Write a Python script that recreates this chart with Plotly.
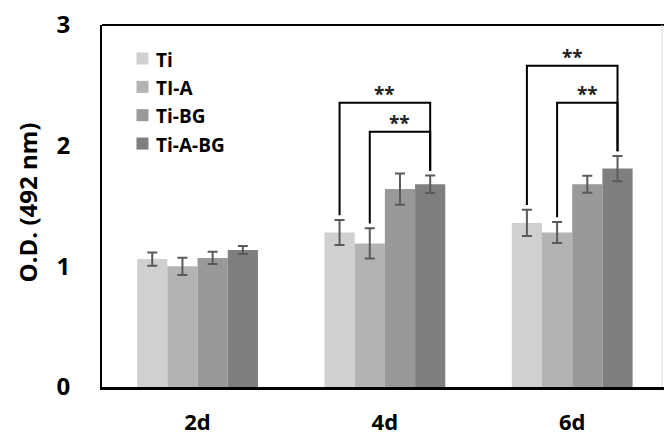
import plotly.graph_objects as go

categories = ["2d", "4d", "6d"]
series_names = ["Ti", "TI-A", "Ti-BG", "Ti-A-BG"]
series_colors = ["#d0d0d0", "#b3b3b3", "#999999", "#7f7f7f"]
values_ti = [1.06, 1.28, 1.36]
values_tia = [1.00, 1.19, 1.28]
values_tibg = [1.07, 1.64, 1.68]
values_tiabg = [1.135, 1.68, 1.81]
err_ti = [0.055, 0.104, 0.108]
err_tia = [0.072, 0.126, 0.087]
err_tibg = [0.05, 0.13, 0.07]
err_tiabg = [0.033, 0.072, 0.104]
y_ticks = [0, 1, 2, 3]

# significance brackets: (category index, series a, series b, bracket height, label)
sig_category = [1, 1, 2, 2]
sig_from = [0, 1, 0, 1]
sig_to = [3, 3, 3, 3]
sig_height = [2.356, 2.116, 2.663, 2.356]
sig_label = ["**", "**", "**", "**"]

all_values = [values_ti, values_tia, values_tibg, values_tiabg]
all_errs = [err_ti, err_tia, err_tibg, err_tiabg]

FONT = "Open Sans"
bargap = 0.355
W, H = 664, 437
ML, MR, MT, MB = 102, 0, 25, 50
plot_w, plot_h = W - ML - MR, H - MT - MB

fig = go.Figure()
for name, color, vals, errs in zip(series_names, series_colors, all_values, all_errs):
    fig.add_trace(go.Bar(
        name=name, x=list(range(len(categories))), y=vals, marker_color=color,
        marker_line_width=0, showlegend=False,
        error_y=dict(type="data", array=errs, color="#5a5a5a", thickness=2, width=5),
    ))

n = len(series_names)
w = (1 - bargap) / n
def xpos(cat, s):
    return cat + (s - (n - 1) / 2) * w

gap = 0.04
shapes = []
annotations = []
for c, a, b, h, lab in zip(sig_category, sig_from, sig_to, sig_height, sig_label):
    xa, xb = xpos(c, a), xpos(c, b)
    ya = all_values[a][c] + all_errs[a][c] + gap
    yb = all_values[b][c] + all_errs[b][c] + gap
    shapes.append(dict(type="path", xref="x", yref="y",
                       path=f"M {xa} {ya} L {xa} {h} L {xb} {h} L {xb} {yb}",
                       line=dict(color="black", width=2)))
    annotations.append(dict(x=(xa + xb) / 2, y=h, xref="x", yref="y", text=f"<b>{lab}</b>",
                            showarrow=False, yanchor="bottom", yshift=-6,
                            font=dict(family=FONT, size=19, color="#222")))

# legend drawn inside the plot (square swatch + label)
leg_sq_x = (142.5 - ML) / plot_w
leg_tx_x = (153.5 - ML) / plot_w
leg_y0_px, leg_step_px = 58.5, 28.35
for i, (name, color) in enumerate(zip(series_names, series_colors)):
    ypx = leg_y0_px + i * leg_step_px
    yp = 1 - (ypx - MT) / plot_h
    shapes.append(dict(type="rect", xref="paper", yref="paper",
                       xsizemode="pixel", ysizemode="pixel",
                       xanchor=leg_sq_x, yanchor=yp, x0=-6, x1=6, y0=-6, y1=6,
                       fillcolor=color, line=dict(width=0)))
    annotations.append(dict(x=leg_tx_x, y=yp, xref="paper", yref="paper",
                            text=f"<b>{name}</b>", showarrow=False,
                            xanchor="left", yanchor="middle", yshift=-1,
                            font=dict(family=FONT, size=19, color="black")))

# y-axis title
annotations.append(dict(x=0, y=0.51, xref="paper", yref="paper", text="<b>O.D. (492 nm)</b>",
                        textangle=-90, showarrow=False, xanchor="center", yanchor="middle",
                        xshift=-75, font=dict(family=FONT, size=24, color="black")))

# top frame line and faint right edge
shapes.append(dict(type="line", xref="paper", yref="paper", x0=0, x1=1, y0=1, y1=1,
                   line=dict(color="black", width=2)))
rx = (662 - ML) / plot_w
shapes.append(dict(type="line", xref="paper", yref="paper", x0=rx, x1=rx, y0=0, y1=1,
                   line=dict(color="#dddddd", width=1)))

fig.update_layout(
    width=W, height=H,
    margin=dict(l=ML, r=MR, t=MT, b=MB),
    paper_bgcolor="white", plot_bgcolor="white",
    barmode="group", bargap=bargap, bargroupgap=0,
    font=dict(family=FONT, color="black"),
    shapes=shapes, annotations=annotations,
    showlegend=False,
)
fig.update_xaxes(
    range=[-0.51, 2.49], tickmode="array", tickvals=list(range(len(categories))),
    ticktext=[f"<b>{c}</b>" for c in categories],
    tickfont=dict(family=FONT, size=22, color="black"),
    showline=True, linecolor="black", linewidth=3,
    ticks="outside", ticklen=14, tickcolor="rgba(0,0,0,0)",
    showgrid=False, zeroline=False, automargin=False,
)
fig.update_yaxes(
    range=[0, 3], tickmode="array", tickvals=y_ticks,
    ticktext=[f"<b>{t}</b>" for t in y_ticks],
    tickfont=dict(family=FONT, size=24, color="black"),
    showline=True, linecolor="black", linewidth=2,
    ticks="outside", ticklen=25, tickcolor="rgba(0,0,0,0)",
    showgrid=False, zeroline=False, automargin=False,
)

fig.write_html("out.html", config={"displayModeBar": False},
               post_script="document.body.style.margin='0';document.body.style.padding='0';")
